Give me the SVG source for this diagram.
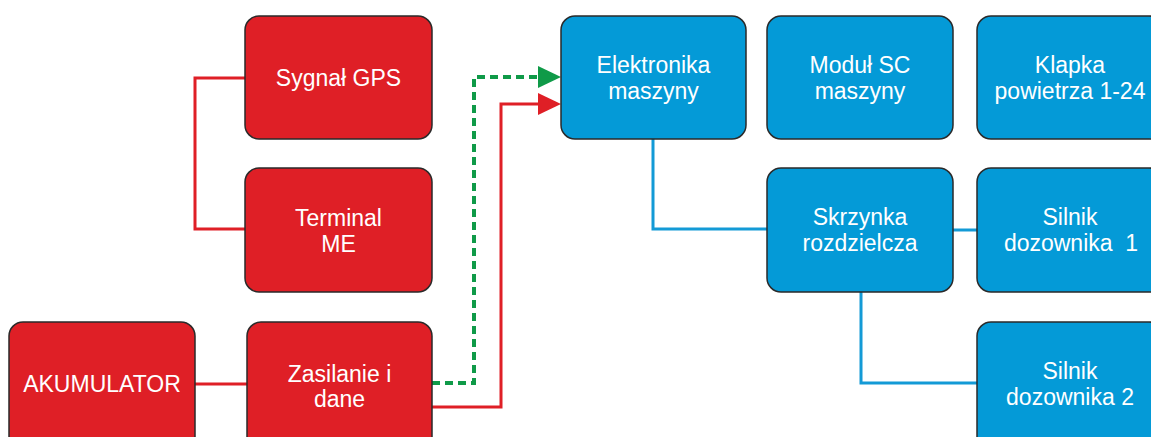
<svg xmlns="http://www.w3.org/2000/svg" width="1151" height="437" viewBox="0 0 1151 437">
<defs>
<style>
.r{fill:#DF1F26;stroke:#2a2a2a;stroke-width:1.5}
.b{fill:#049AD7;stroke:#2a2a2a;stroke-width:1.5}
.t{font-family:"Liberation Sans",Arial,sans-serif;font-size:23px;fill:#fff;text-anchor:middle}
.lr{fill:none;stroke:#DF1F26;stroke-width:3}
.lb{fill:none;stroke:#139AD6;stroke-width:3}
.lg{fill:none;stroke:#0F9A48;stroke-width:4;stroke-dasharray:8 5}
</style>
</defs>
<rect width="1151" height="437" fill="#fff"/>
<g id="connectors">
<path class="lr" d="M245 78H195V229H245"/>
<path class="lr" d="M195 384H247"/>
<path class="lg" d="M432 383H474V77H540"/>
<polygon points="538,66 561,77 538,88" fill="#0F9A48"/>
<path class="lr" d="M432 407H501V104H540"/>
<polygon points="538,93 561,104 538,115" fill="#DF1F26"/>
<path class="lb" d="M653 139V229H767"/>
<path class="lb" d="M953 230H977"/>
<path class="lb" d="M861 292V383H977"/>
</g>
<g id="gps"><rect class="r" x="245" y="16" width="187" height="123" rx="14"/><text class="t" x="338.5" y="86">Sygnał GPS</text></g>
<g id="terminal"><rect class="r" x="245" y="168" width="187" height="124" rx="14"/><text class="t" x="338.5" y="226">Terminal</text><text class="t" x="338.5" y="252">ME</text></g>
<g id="akumulator"><rect class="r" x="9" y="322" width="186" height="130" rx="14"/><text class="t" x="102" y="392">AKUMULATOR</text></g>
<g id="zasilanie"><rect class="r" x="247" y="322" width="185" height="130" rx="14"/><text class="t" x="339.5" y="382">Zasilanie i</text><text class="t" x="339.5" y="407">dane</text></g>
<g id="elektronika"><rect class="b" x="561" y="16" width="185" height="123" rx="14"/><text class="t" x="653.5" y="73">Elektronika</text><text class="t" x="653.5" y="99">maszyny</text></g>
<g id="modul"><rect class="b" x="767" y="16" width="186" height="123" rx="14"/><text class="t" x="860" y="73">Moduł SC</text><text class="t" x="860" y="99">maszyny</text></g>
<g id="klapka"><rect class="b" x="977" y="16" width="186" height="123" rx="14"/><text class="t" x="1070" y="73">Klapka</text><text class="t" x="1070" y="99">powietrza 1-24</text></g>
<g id="skrzynka"><rect class="b" x="767" y="168" width="186" height="124" rx="14"/><text class="t" x="860" y="225">Skrzynka</text><text class="t" x="860" y="251">rozdzielcza</text></g>
<g id="silnik1"><rect class="b" x="977" y="168" width="186" height="124" rx="14"/><text class="t" x="1070" y="225">Silnik</text><text class="t" x="1071" y="251" xml:space="preserve">dozownika  1</text></g>
<g id="silnik2"><rect class="b" x="977" y="322" width="186" height="130" rx="14"/><text class="t" x="1070" y="379">Silnik</text><text class="t" x="1070" y="405">dozownika 2</text></g>
</svg>
